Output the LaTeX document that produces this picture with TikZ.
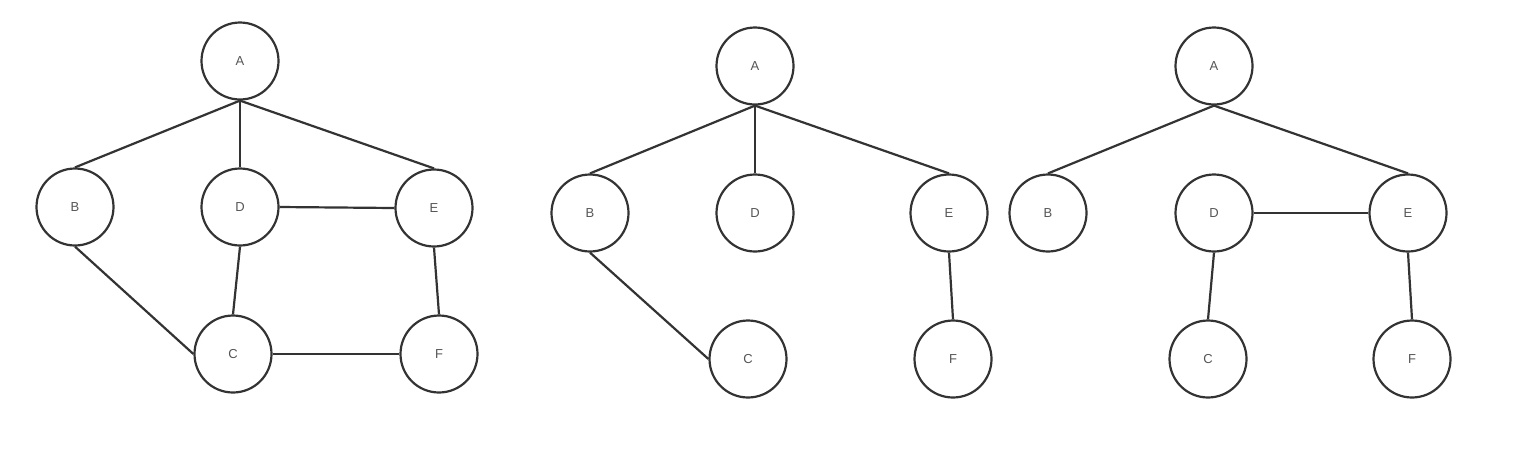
\documentclass[tikz,border=0pt]{standalone}
\usepackage{fontspec}
\setmainfont{Liberation Sans}
\definecolor{edge}{HTML}{333333}
\definecolor{txt}{HTML}{555555}
\begin{document}
\begin{tikzpicture}[x=1pt,y=-1pt,
  vtx/.style={draw=edge,line width=2.2pt,circle,minimum size=77pt,inner sep=0pt,font=\fontsize{13}{15}\selectfont,text=txt},
  lnk/.style={draw=edge,line width=2.2pt}]
\useasboundingbox (0,0) rectangle (1514,451);
% graph 1
\node[vtx] (A1) at (240,61) {A};
\node[vtx] (B1) at (75,207) {B};
\node[vtx] (D1) at (240,207) {D};
\node[vtx] (E1) at (434,208) {E};
\node[vtx] (C1) at (233,354) {C};
\node[vtx] (F1) at (439,354) {F};
\draw[lnk] (A1.south) -- (B1.north);
\draw[lnk] (A1.south) -- (D1.north);
\draw[lnk] (A1.south) -- (E1.north);
\draw[lnk] (D1.east) -- (E1.west);
\draw[lnk] (B1.south) -- (C1.west);
\draw[lnk] (D1.south) -- (C1.north);
\draw[lnk] (E1.south) -- (F1.north);
\draw[lnk] (C1.east) -- (F1.west);
% graph 2
\node[vtx] (A2) at (755,66) {A};
\node[vtx] (B2) at (590,213) {B};
\node[vtx] (D2) at (755,213) {D};
\node[vtx] (E2) at (949,213) {E};
\node[vtx] (C2) at (748,359) {C};
\node[vtx] (F2) at (953,359) {F};
\draw[lnk] (A2.south) -- (B2.north);
\draw[lnk] (A2.south) -- (D2.north);
\draw[lnk] (A2.south) -- (E2.north);
\draw[lnk] (B2.south) -- (C2.west);
\draw[lnk] (E2.south) -- (F2.north);
% graph 3
\node[vtx] (A3) at (1214,66) {A};
\node[vtx] (B3) at (1048,213) {B};
\node[vtx] (D3) at (1214,213) {D};
\node[vtx] (E3) at (1408,213) {E};
\node[vtx] (C3) at (1208,359) {C};
\node[vtx] (F3) at (1412,359) {F};
\draw[lnk] (A3.south) -- (B3.north);
\draw[lnk] (A3.south) -- (E3.north);
\draw[lnk] (D3.east) -- (E3.west);
\draw[lnk] (D3.south) -- (C3.north);
\draw[lnk] (E3.south) -- (F3.north);
\end{tikzpicture}
\end{document}
